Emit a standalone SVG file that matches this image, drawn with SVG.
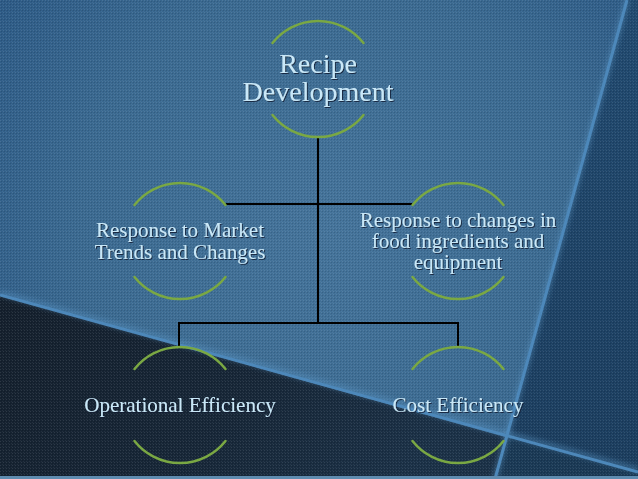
<svg xmlns="http://www.w3.org/2000/svg" width="638" height="479" viewBox="0 0 638 479">
  <defs>
    <radialGradient id="bgMain" cx="330" cy="230" r="420" gradientUnits="userSpaceOnUse">
      <stop offset="0" stop-color="#44739a"/>
      <stop offset="0.6" stop-color="#3a6990"/>
      <stop offset="1" stop-color="#2b5884"/>
    </radialGradient>
    <linearGradient id="bgRight" x1="0" y1="0" x2="0" y2="1">
      <stop offset="0" stop-color="#214a70"/>
      <stop offset="1" stop-color="#1b3d5e"/>
    </linearGradient>
    <linearGradient id="bgDark" x1="0" y1="0" x2="1" y2="0.3">
      <stop offset="0" stop-color="#141f2c"/>
      <stop offset="0.6" stop-color="#172738"/>
      <stop offset="1" stop-color="#1b3147"/>
    </linearGradient>
    <pattern id="hatch" width="3" height="3" patternUnits="userSpaceOnUse">
      <rect x="0" y="0" width="1" height="1" fill="#ffffff" fill-opacity="0.10"/>
      <rect x="1" y="1" width="1" height="1" fill="#000000" fill-opacity="0.12"/>
      <rect x="2" y="2" width="1" height="1" fill="#ffffff" fill-opacity="0.06"/>
    </pattern>
    <filter id="glow" x="-20%" y="-20%" width="140%" height="140%">
      <feGaussianBlur stdDeviation="2"/>
    </filter>
    <filter id="txtShadow" x="-10%" y="-20%" width="120%" height="140%">
      <feDropShadow dx="1" dy="1" stdDeviation="0.7" flood-color="#0b1e30" flood-opacity="0.8"/>
    </filter>
  </defs>
  <style>
    .arc { fill: none; stroke: #7aa843; stroke-width: 2.5; stroke-linecap: round; }
    .conn { fill: none; stroke: #000000; stroke-width: 2; }
    .lbl { font-family: "Liberation Serif", "Times New Roman", serif; fill: #c9e8f8; text-anchor: middle; filter: url(#txtShadow); }
    .big { font-size: 28px; }
    .mid { font-size: 21px; }
    .band { fill: none; stroke: #4d88ba; stroke-width: 3; }
    .bandGlow { fill: none; stroke: #5b96c6; stroke-width: 7; stroke-opacity: 0.35; }
  </style>

  <!-- background -->
  <g id="background">
    <rect x="0" y="0" width="638" height="479" fill="url(#bgMain)"/>
    <polygon points="627,0 638,0 638,479 495,479" fill="url(#bgRight)"/>
    <polygon points="0,295 505,437 495,479 0,479" fill="url(#bgDark)"/>
    <polygon points="505,437 638,472 638,479 495,479" fill="#1a3955"/>
    <rect x="0" y="0" width="638" height="479" fill="url(#hatch)"/>
    <line class="bandGlow" x1="0" y1="293" x2="638" y2="470" filter="url(#glow)"/>
    <line class="bandGlow" x1="627" y1="0" x2="495" y2="479" filter="url(#glow)"/>
    <line class="band" x1="0" y1="295" x2="638" y2="472"/>
    <line class="band" x1="627" y1="0" x2="495" y2="479"/>
    <rect x="0" y="476" width="638" height="3" fill="#5f8cb0"/>
  </g>

  <!-- connectors -->
  <g id="connectors">
    <path class="conn" d="M318 137 V323"/>
    <path class="conn" d="M225.5 204 H412.5"/>
    <path class="conn" d="M179 323 H458"/>
    <path class="conn" d="M179 322 V347"/>
    <path class="conn" d="M458 322 V347"/>
  </g>

  <!-- nodes -->
  <g id="node-recipe">
    <path class="arc" d="M272.5 43 A58 58 0 0 1 363.5 43"/>
    <path class="arc" d="M272.5 115 A58 58 0 0 0 363.5 115"/>
    <text class="lbl big" x="318" y="73">Recipe</text>
    <text class="lbl big" x="318" y="101">Development</text>
  </g>

  <g id="node-market">
    <path class="arc" d="M134.5 205 A58 58 0 0 1 225.5 205"/>
    <path class="arc" d="M134.5 277 A58 58 0 0 0 225.5 277"/>
    <text class="lbl mid" x="180" y="237">Response to Market</text>
    <text class="lbl mid" x="180" y="259">Trends and Changes</text>
  </g>

  <g id="node-ingredients">
    <path class="arc" d="M412.5 205 A58 58 0 0 1 503.5 205"/>
    <path class="arc" d="M412.5 277 A58 58 0 0 0 503.5 277"/>
    <text class="lbl mid" x="458" y="227">Response to changes in</text>
    <text class="lbl mid" x="458" y="248">food ingredients and</text>
    <text class="lbl mid" x="458" y="269">equipment</text>
  </g>

  <g id="node-operational">
    <path class="arc" d="M134.5 369 A58 58 0 0 1 225.5 369"/>
    <path class="arc" d="M134.5 441 A58 58 0 0 0 225.5 441"/>
    <text class="lbl mid" x="180" y="412">Operational Efficiency</text>
  </g>

  <g id="node-cost">
    <path class="arc" d="M412.5 369 A58 58 0 0 1 503.5 369"/>
    <path class="arc" d="M412.5 441 A58 58 0 0 0 503.5 441"/>
    <text class="lbl mid" x="458" y="412">Cost Efficiency</text>
  </g>
</svg>
